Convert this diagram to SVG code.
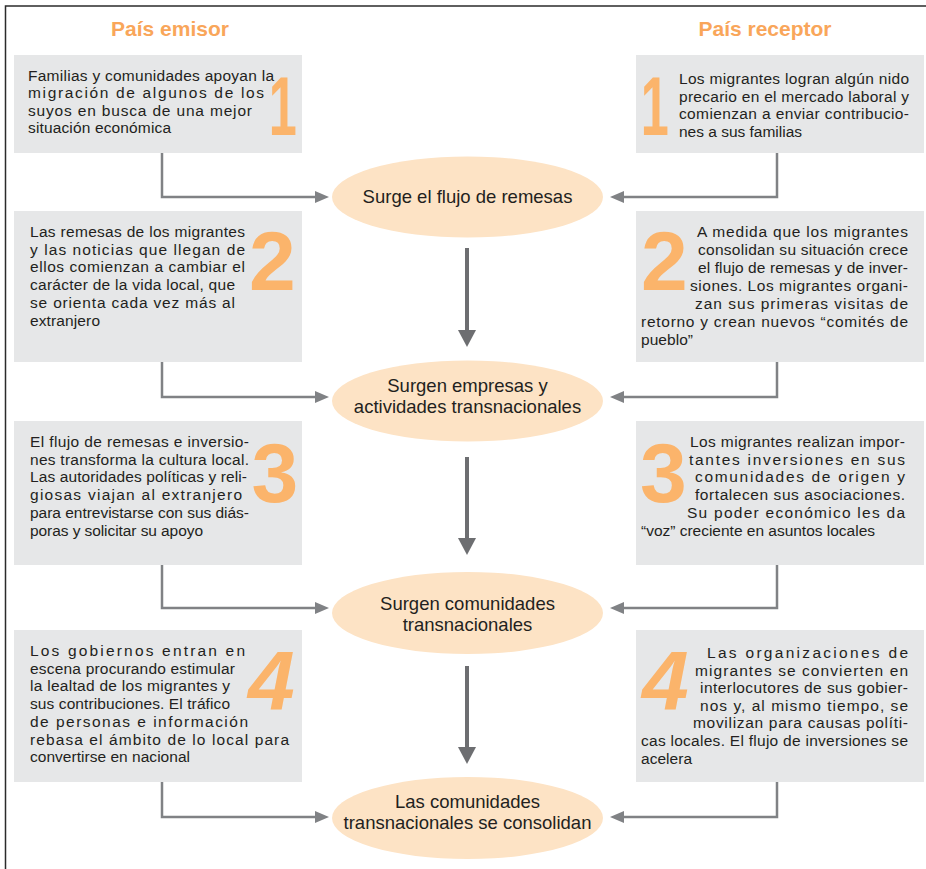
<svg xmlns="http://www.w3.org/2000/svg" width="926" height="869" viewBox="0 0 926 869">
<style>
.hdr{font-family:"Liberation Sans",Arial,sans-serif;font-size:21px;font-weight:bold;fill:#F9A65A;text-anchor:middle}
.t{font-family:"Liberation Sans",Arial,sans-serif;font-size:15.5px;fill:#231F20}
.e{font-family:"Liberation Sans",Arial,sans-serif;font-size:18.5px;fill:#231F20;text-anchor:middle}
.box{fill:#E6E7E8}
.ell{fill:#FDE3C5}
.num{font-family:"Liberation Sans",Arial,sans-serif;font-size:84px;font-weight:bold;fill:#FBB46B}
.side{fill:none;stroke:#808285;stroke-width:2.5;marker-end:url(#sa)}
.down{stroke:#6D6E71;stroke-width:4;marker-end:url(#da)}
</style>
<defs>
<marker id="sa" markerUnits="userSpaceOnUse" markerWidth="14" markerHeight="12" refX="2" refY="6" orient="auto"><path d="M0,0 L14,6 L0,12 z" fill="#808285"/></marker>
<marker id="da" markerUnits="userSpaceOnUse" markerWidth="17" markerHeight="18" refX="3" refY="9" orient="auto"><path d="M0,0 L17,9 L0,18 z" fill="#6D6E71"/></marker>
</defs>
<rect width="926" height="869" fill="#FFFFFF"/>
<path d="M5.5,869 V6 H926" fill="none" stroke="#2B2B2B" stroke-width="1.5"/>
<text class="hdr" x="170" y="36">País emisor</text>
<text class="hdr" x="765" y="36">País receptor</text>

<g id="connectors">
<path class="side" d="M162,153 V197 H317"/>
<path class="side" d="M777,153 V197 H622"/>
<path class="side" d="M162,362 V397 H317"/>
<path class="side" d="M777,362 V397 H622"/>
<path class="side" d="M162,565 V608 H317"/>
<path class="side" d="M777,565 V608 H622"/>
<path class="side" d="M162,782 V817 H317"/>
<path class="side" d="M777,782 V817 H622"/>
<line class="down" x1="467" y1="248" x2="467" y2="333"/>
<line class="down" x1="467" y1="457" x2="467" y2="541"/>
<line class="down" x1="467" y1="666" x2="467" y2="750"/>
</g>

<g id="box-l1">
<rect class="box" x="14" y="55" width="288" height="98"/>
<text class="num" transform="translate(268.8,135) scale(0.6,1)">1</text>
<text class="t" x="28" y="80.5" textLength="246" lengthAdjust="spacing">Familias y comunidades apoyan la</text>
<text class="t" x="28" y="98" textLength="236" lengthAdjust="spacing">migración de algunos de los</text>
<text class="t" x="28" y="115.5" textLength="224" lengthAdjust="spacing">suyos en busca de una mejor</text>
<text class="t" x="28" y="133" textLength="143" lengthAdjust="spacing">situación económica</text>
</g>

<g id="box-r1">
<rect class="box" x="636" y="55" width="288" height="98"/>
<text class="num" transform="translate(640.8,135) scale(0.6,1)">1</text>
<text class="t" x="679" y="84" textLength="230" lengthAdjust="spacing">Los migrantes logran algún nido</text>
<text class="t" x="679" y="101.5" textLength="230" lengthAdjust="spacing">precario en el mercado laboral y</text>
<text class="t" x="679" y="119" textLength="230" lengthAdjust="spacing">comienzan a enviar contribucio-</text>
<text class="t" x="679" y="136.5" textLength="123" lengthAdjust="spacing">nes a sus familias</text>
</g>

<g id="box-l2">
<rect class="box" x="14" y="211" width="288" height="151"/>
<text class="num" x="249" y="290">2</text>
<text class="t" x="30" y="237" textLength="215" lengthAdjust="spacing">Las remesas de los migrantes</text>
<text class="t" x="30" y="254.7" textLength="215" lengthAdjust="spacing">y las noticias que llegan de</text>
<text class="t" x="30" y="272.4" textLength="215" lengthAdjust="spacing">ellos comienzan a cambiar el</text>
<text class="t" x="30" y="290.1" textLength="205" lengthAdjust="spacing">carácter de la vida local, que</text>
<text class="t" x="30" y="307.8" textLength="205" lengthAdjust="spacing">se orienta cada vez más al</text>
<text class="t" x="30" y="325.5" textLength="70" lengthAdjust="spacing">extranjero</text>
</g>

<g id="box-r2">
<rect class="box" x="636" y="211" width="288" height="151"/>
<text class="num" x="641" y="290">2</text>
<text class="t" x="697" y="237" textLength="211" lengthAdjust="spacing">A medida que los migrantes</text>
<text class="t" x="698" y="255" textLength="210" lengthAdjust="spacing">consolidan su situación crece</text>
<text class="t" x="698" y="273" textLength="210" lengthAdjust="spacing">el flujo de remesas y de inver-</text>
<text class="t" x="690" y="291" textLength="218" lengthAdjust="spacing">siones. Los migrantes organi-</text>
<text class="t" x="695" y="309" textLength="213" lengthAdjust="spacing">zan sus primeras visitas de</text>
<text class="t" x="641" y="327" textLength="267" lengthAdjust="spacing">retorno y crean nuevos “comités de</text>
<text class="t" x="641" y="345" textLength="52" lengthAdjust="spacing">pueblo”</text>
</g>

<g id="box-l3">
<rect class="box" x="14" y="421" width="288" height="144"/>
<text class="num" x="251.5" y="502">3</text>
<text class="t" x="30" y="447" textLength="219" lengthAdjust="spacing">El flujo de remesas e inversio-</text>
<text class="t" x="30" y="464.7" textLength="219" lengthAdjust="spacing">nes transforma la cultura local.</text>
<text class="t" x="30" y="482.4" textLength="217" lengthAdjust="spacing">Las autoridades políticas y reli-</text>
<text class="t" x="30" y="500.1" textLength="212" lengthAdjust="spacing">giosas viajan al extranjero</text>
<text class="t" x="30" y="517.8" textLength="219" lengthAdjust="spacing">para entrevistarse con sus diás-</text>
<text class="t" x="30" y="535.5" textLength="173" lengthAdjust="spacing">poras y solicitar su apoyo</text>
</g>

<g id="box-r3">
<rect class="box" x="636" y="421" width="288" height="144"/>
<text class="num" x="640" y="502">3</text>
<text class="t" x="690" y="447" textLength="215" lengthAdjust="spacing">Los migrantes realizan impor-</text>
<text class="t" x="689" y="464.7" textLength="216" lengthAdjust="spacing">tantes inversiones en sus</text>
<text class="t" x="695" y="482.4" textLength="210" lengthAdjust="spacing">comunidades de origen y</text>
<text class="t" x="695" y="500.1" textLength="210" lengthAdjust="spacing">fortalecen sus asociaciones.</text>
<text class="t" x="687" y="517.8" textLength="218" lengthAdjust="spacing">Su poder económico les da</text>
<text class="t" x="641" y="535.5" textLength="234" lengthAdjust="spacing">“voz” creciente en asuntos locales</text>
</g>

<g id="box-l4">
<rect class="box" x="14" y="630" width="288" height="152"/>
<text class="num" x="248" y="710" font-style="italic">4</text>
<text class="t" x="30" y="656" textLength="215" lengthAdjust="spacing">Los gobiernos entran en</text>
<text class="t" x="30" y="673.7" textLength="205" lengthAdjust="spacing">escena procurando estimular</text>
<text class="t" x="30" y="691.4" textLength="200" lengthAdjust="spacing">la lealtad de los migrantes y</text>
<text class="t" x="30" y="709.1" textLength="200" lengthAdjust="spacing">sus contribuciones. El tráfico</text>
<text class="t" x="30" y="726.8" textLength="218" lengthAdjust="spacing">de personas e información</text>
<text class="t" x="30" y="744.5" textLength="259" lengthAdjust="spacing">rebasa el ámbito de lo local para</text>
<text class="t" x="30" y="762.2" textLength="160" lengthAdjust="spacing">convertirse en nacional</text>
</g>

<g id="box-r4">
<rect class="box" x="636" y="630" width="288" height="152"/>
<text class="num" x="642" y="710" font-style="italic">4</text>
<text class="t" x="707" y="658" textLength="201" lengthAdjust="spacing">Las organizaciones de</text>
<text class="t" x="695" y="675.6" textLength="213" lengthAdjust="spacing">migrantes se convierten en</text>
<text class="t" x="700" y="693.2" textLength="208" lengthAdjust="spacing">interlocutores de sus gobier-</text>
<text class="t" x="700" y="710.8" textLength="208" lengthAdjust="spacing">nos y, al mismo tiempo, se</text>
<text class="t" x="693" y="728.4" textLength="215" lengthAdjust="spacing">movilizan para causas políti-</text>
<text class="t" x="641" y="746" textLength="267" lengthAdjust="spacing">cas locales. El flujo de inversiones se</text>
<text class="t" x="641" y="763.6" textLength="51" lengthAdjust="spacing">acelera</text>
</g>

<g id="node-remesas">
<ellipse class="ell" cx="467.5" cy="197" rx="135.5" ry="40.5"/>
<text class="e" x="467.5" y="203">Surge el flujo de remesas</text>
</g>
<g id="node-empresas">
<ellipse class="ell" cx="467.5" cy="401" rx="135.5" ry="40.5"/>
<text class="e" x="467.5" y="392">Surgen empresas y</text>
<text class="e" x="467.5" y="413">actividades transnacionales</text>
</g>
<g id="node-comunidades">
<ellipse class="ell" cx="467.5" cy="613" rx="135.5" ry="41"/>
<text class="e" x="467.5" y="610">Surgen comunidades</text>
<text class="e" x="467.5" y="631">transnacionales</text>
</g>
<g id="node-consolidan">
<ellipse class="ell" cx="467.5" cy="818" rx="135.5" ry="41"/>
<text class="e" x="467.5" y="808">Las comunidades</text>
<text class="e" x="467.5" y="829">transnacionales se consolidan</text>
</g>
</svg>
